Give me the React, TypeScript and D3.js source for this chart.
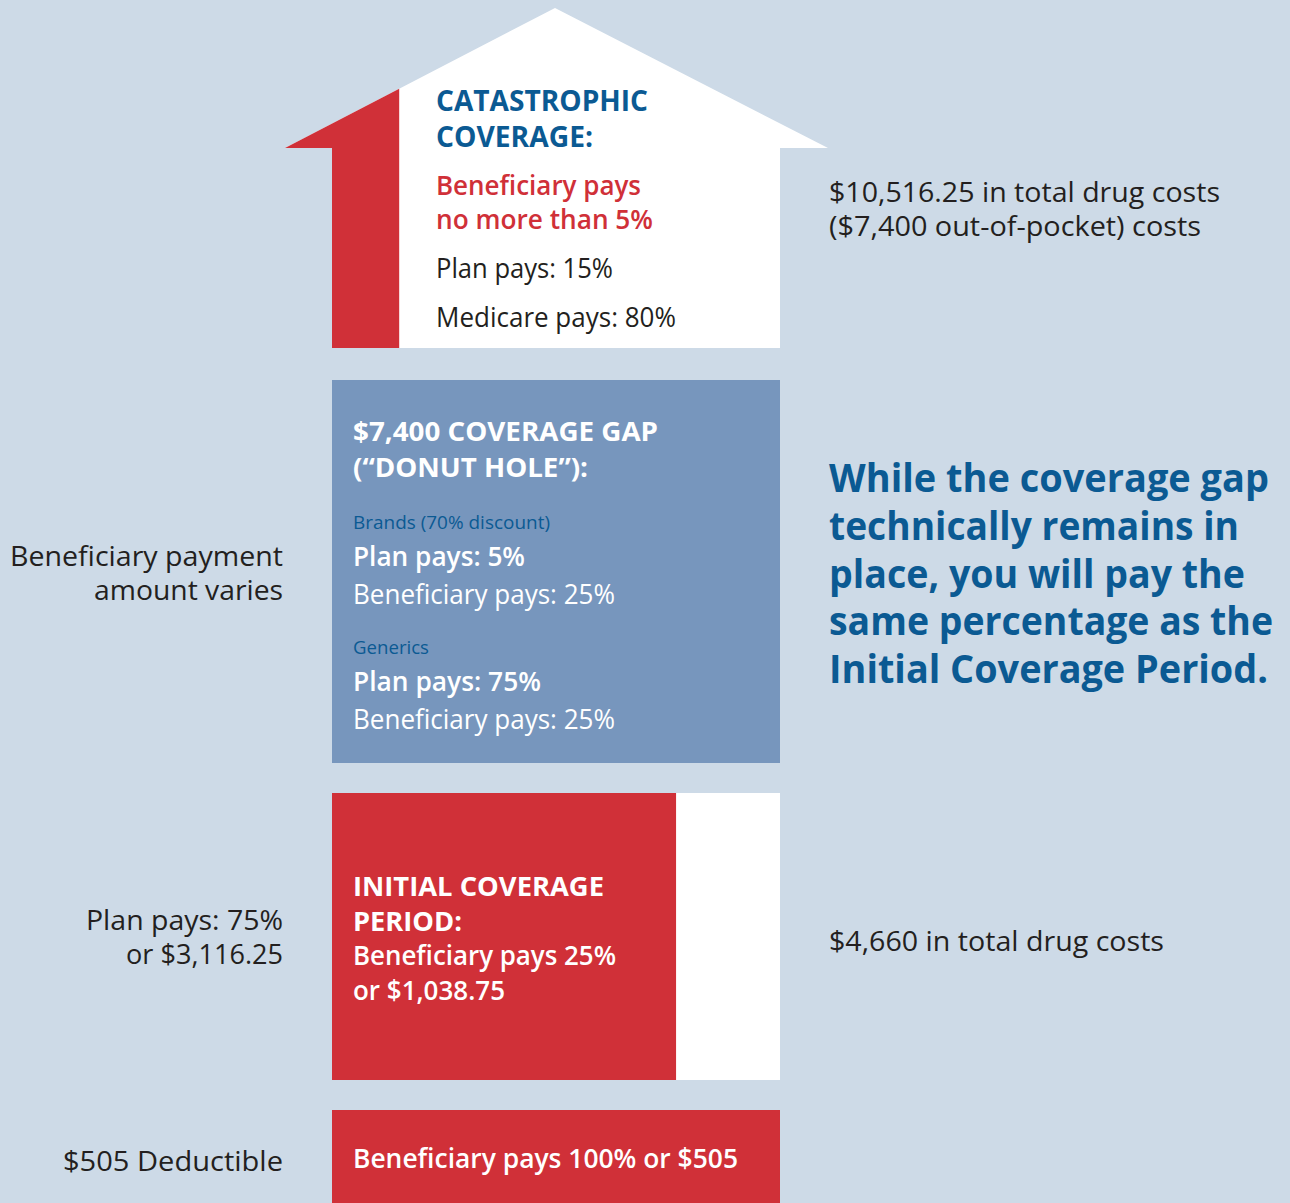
import React from "react";
import * as d3 from "d3";

// ---- content (text only) ----
const catastrophicTitle = ["CATASTROPHIC", "COVERAGE:"];
const catastrophicBeneficiary = ["Beneficiary pays", "no more than 5%"];
const catastrophicShares = ["Plan pays: 15%", "Medicare pays: 80%"];
const catastrophicThreshold = ["$10,516.25 in total drug costs", "($7,400 out-of-pocket) costs"];

const gapTitle = ["$7,400 COVERAGE GAP", "(\u201CDONUT HOLE\u201D):"];
const gapGroups = ["Brands (70% discount)", "Generics"];
const gapPlanPays = ["Plan pays: 5%", "Plan pays: 75%"];
const gapBeneficiaryPays = ["Beneficiary pays: 25%", "Beneficiary pays: 25%"];
const gapLeftNote = ["Beneficiary payment", "amount varies"];
const gapRightNote = [
  "While the coverage gap",
  "technically remains in",
  "place, you will pay the",
  "same percentage as the",
  "Initial Coverage Period.",
];

const initialTitle = ["INITIAL COVERAGE", "PERIOD:"];
const initialBeneficiary = ["Beneficiary pays 25%", "or $1,038.75"];
const initialLeftNote = ["Plan pays: 75%", "or $3,116.25"];
const initialThreshold = ["$4,660 in total drug costs"];

const deductibleText = ["Beneficiary pays 100% or $505"];
const deductibleLeftNote = ["$505 Deductible"];

// tiers from top to bottom with their vertical extents
const tierNames = ["catastrophic", "gap", "initial", "deductible"];
const tierTop = [148, 380, 793, 1110];
const tierBottom = [348, 763, 1080, 1203];

const W = 1290;
const H = 1203;
const BG = "#cddae7";
const RED = "#d03038";
const GAPBLUE = "#7796bd";
const DARKBLUE = "#0b5a93";
const INK = "#231f20";
const FONT = "'Open Sans', 'Noto Sans', sans-serif";

type TProps = {
  x: number;
  y: number;
  w: number;
  size: number;
  weight?: number;
  fill: string;
  anchor?: "start" | "end";
  children: string;
};

function T({ x, y, w, size, weight = 400, fill, anchor = "start", children }: TProps) {
  return (
    <text
      x={x}
      y={y}
      fontSize={size}
      fontWeight={weight}
      fill={fill}
      textAnchor={anchor}
      textLength={w}
      lengthAdjust="spacingAndGlyphs"
      fontFamily={FONT}
    >
      {children}
    </text>
  );
}

export default function App() {
  const x = d3.scaleLinear().domain([0, 1]).range([332, 780]);
  const y = (name: string, edge: "top" | "bottom") => {
    const i = tierNames.indexOf(name);
    return edge === "top" ? tierTop[i] : tierBottom[i];
  };

  const bodyTop = y("catastrophic", "top");
  const bodyBottom = y("catastrophic", "bottom");
  const peak: [number, number] = [555, 8];
  const eaveL: [number, number] = [285, bodyTop];
  const eaveR: [number, number] = [828, bodyTop];
  const stripeR = x(0.15);
  const roofAt = (px: number) =>
    peak[1] + ((peak[0] - px) * (eaveL[1] - peak[1])) / (peak[0] - eaveL[0]);

  const line = d3.line();
  const housePath =
    line([
      eaveL,
      peak,
      eaveR,
      [x(1), bodyTop],
      [x(1), bodyBottom],
      [x(0), bodyBottom],
      [x(0), bodyTop],
    ]) + "Z";
  const redPath =
    line([
      eaveL,
      [stripeR, roofAt(stripeR)],
      [stripeR, bodyBottom],
      [x(0), bodyBottom],
      [x(0), bodyTop],
    ]) + "Z";

  const gapTop = y("gap", "top");
  const gapBottom = y("gap", "bottom");
  const iniTop = y("initial", "top");
  const iniBottom = y("initial", "bottom");
  const dedTop = y("deductible", "top");
  const dedBottom = y("deductible", "bottom");

  return (
    <svg
      width={W}
      height={H}
      viewBox={`0 0 ${W} ${H}`}
      style={{ position: "absolute", left: 0, top: 0, display: "block" }}
    >
      <rect width={W} height={H} fill={BG} />

      {/* Catastrophic house */}
      <path d={housePath} fill="#ffffff" />
      <path d={redPath} fill={RED} />
      <T x={436} y={111} w={212} size={28} weight={700} fill={DARKBLUE}>{catastrophicTitle[0]}</T>
      <T x={436} y={147} w={157} size={28} weight={700} fill={DARKBLUE}>{catastrophicTitle[1]}</T>
      <T x={436} y={195} w={205} size={27} weight={600} fill={RED}>{catastrophicBeneficiary[0]}</T>
      <T x={436} y={229} w={217} size={27} weight={600} fill={RED}>{catastrophicBeneficiary[1]}</T>
      <T x={436} y={278} w={177} size={27} fill={INK}>{catastrophicShares[0]}</T>
      <T x={436} y={327} w={240} size={27} fill={INK}>{catastrophicShares[1]}</T>
      <T x={829} y={202} w={391} size={28} fill={INK}>{catastrophicThreshold[0]}</T>
      <T x={829} y={236} w={372} size={28} fill={INK}>{catastrophicThreshold[1]}</T>

      {/* Coverage gap */}
      <rect x={x(0)} y={gapTop} width={x(1) - x(0)} height={gapBottom - gapTop} fill={GAPBLUE} />
      <T x={353} y={441} w={305} size={27} weight={700} fill="#ffffff">{gapTitle[0]}</T>
      <T x={353} y={477} w={235} size={27} weight={700} fill="#ffffff">{gapTitle[1]}</T>
      <T x={353} y={529} w={197} size={19} fill={DARKBLUE}>{gapGroups[0]}</T>
      <T x={353} y={566} w={172} size={27} weight={600} fill="#ffffff">{gapPlanPays[0]}</T>
      <T x={353} y={604} w={262} size={27} fill="#ffffff">{gapBeneficiaryPays[0]}</T>
      <T x={353} y={654} w={76} size={19} fill={DARKBLUE}>{gapGroups[1]}</T>
      <T x={353} y={691} w={188} size={27} weight={600} fill="#ffffff">{gapPlanPays[1]}</T>
      <T x={353} y={729} w={262} size={27} fill="#ffffff">{gapBeneficiaryPays[1]}</T>
      <T x={283} y={566} w={273} size={28} fill={INK} anchor="end">{gapLeftNote[0]}</T>
      <T x={283} y={600} w={189} size={28} fill={INK} anchor="end">{gapLeftNote[1]}</T>
      {gapRightNote.map((s, i) => (
        <T
          key={i}
          x={829}
          y={492 + i * 47.8}
          w={[440, 410, 416, 444, 439][i]}
          size={39}
          weight={700}
          fill={DARKBLUE}
        >
          {s}
        </T>
      ))}

      {/* Initial coverage */}
      <rect x={x(0)} y={iniTop} width={x(1) - x(0)} height={iniBottom - iniTop} fill="#ffffff" />
      <rect x={x(0)} y={iniTop} width={x(0.768) - x(0)} height={iniBottom - iniTop} fill={RED} />
      <T x={353} y={896} w={251} size={27} weight={700} fill="#ffffff">{initialTitle[0]}</T>
      <T x={353} y={931} w={109} size={27} weight={700} fill="#ffffff">{initialTitle[1]}</T>
      <T x={353} y={965} w={263} size={27} weight={600} fill="#ffffff">{initialBeneficiary[0]}</T>
      <T x={353} y={1000} w={152} size={27} weight={600} fill="#ffffff">{initialBeneficiary[1]}</T>
      <T x={283} y={930} w={197} size={28} fill={INK} anchor="end">{initialLeftNote[0]}</T>
      <T x={283} y={964} w={157} size={28} fill={INK} anchor="end">{initialLeftNote[1]}</T>
      <T x={829} y={951} w={335} size={28} fill={INK}>{initialThreshold[0]}</T>

      {/* Deductible */}
      <rect x={x(0)} y={dedTop} width={x(1) - x(0)} height={dedBottom - dedTop} fill={RED} />
      <T x={353} y={1168} w={385} size={27} weight={600} fill="#ffffff">{deductibleText[0]}</T>
      <T x={283} y={1171} w={220} size={28} fill={INK} anchor="end">{deductibleLeftNote[0]}</T>
    </svg>
  );
}
